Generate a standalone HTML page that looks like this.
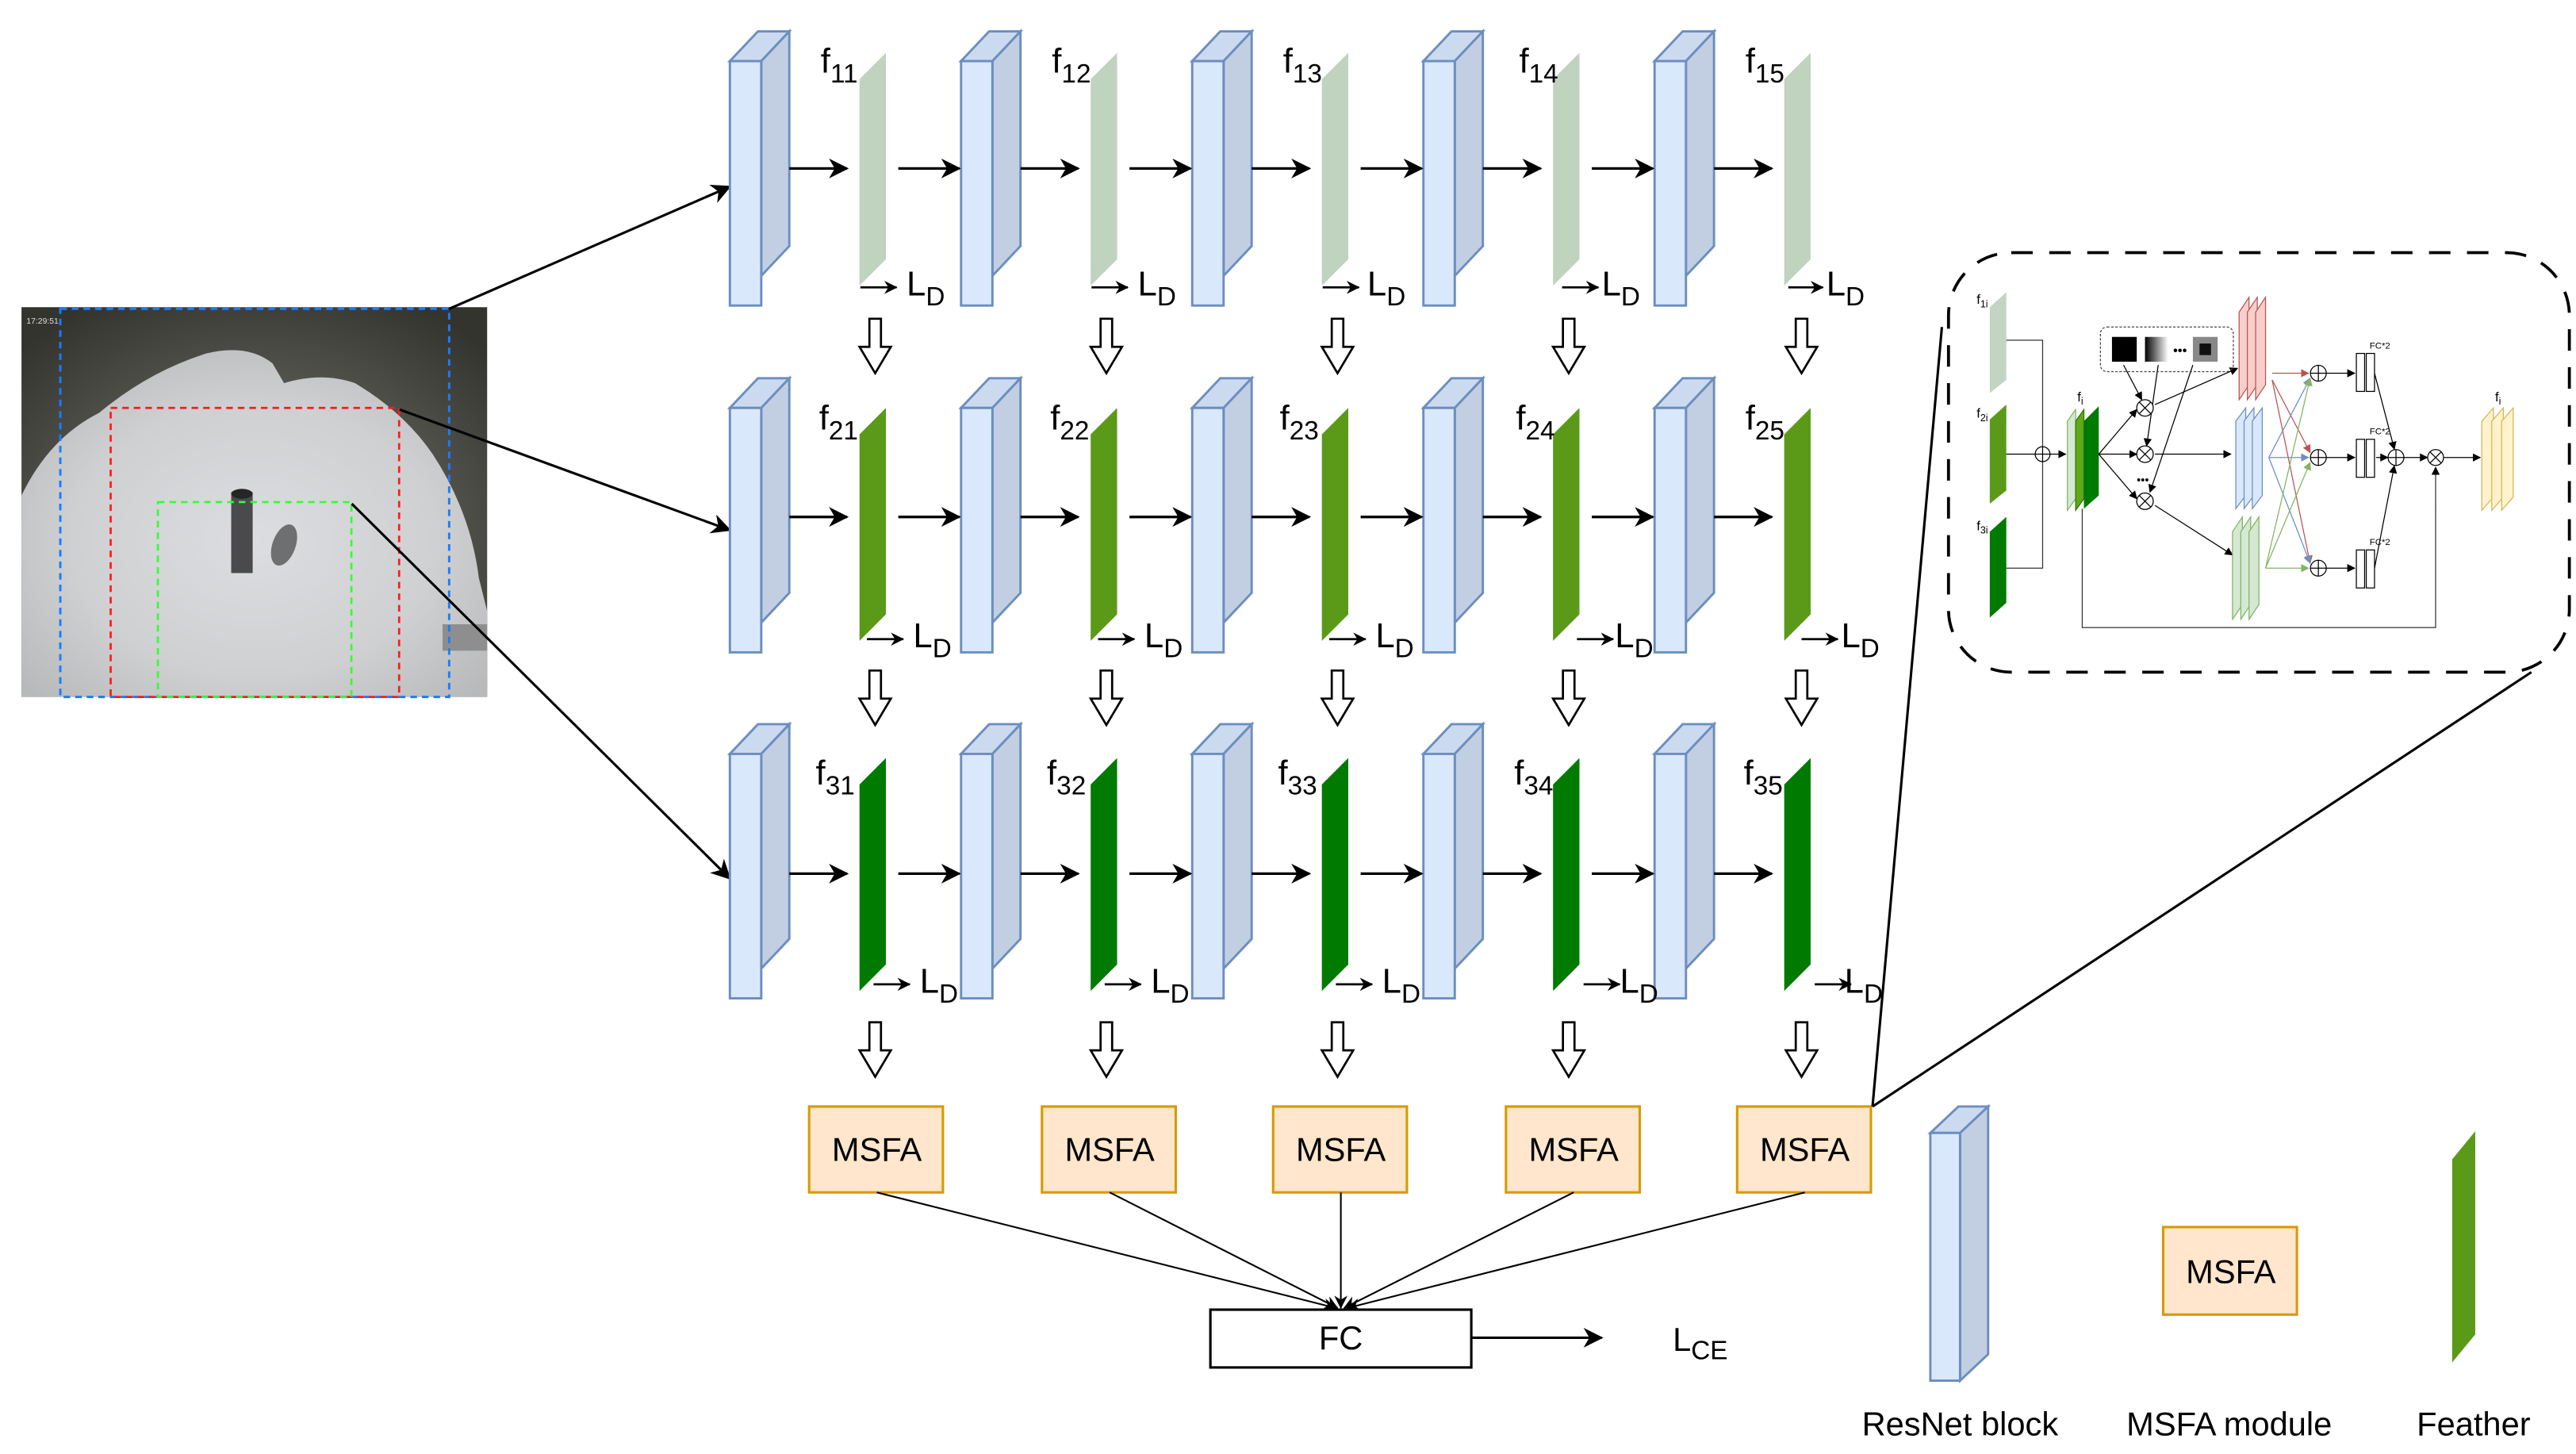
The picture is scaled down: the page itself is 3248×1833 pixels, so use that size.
<!DOCTYPE html>
<html><head><meta charset="utf-8"><style>
html,body{margin:0;padding:0;background:#fff;}
svg{display:block;}
text{font-family:"Liberation Sans",Arial,sans-serif;fill:#000;}
</style></head><body>
<svg width="3248" height="1833" viewBox="0 0 1560 880.4" xmlns="http://www.w3.org/2000/svg">
<defs>
<marker id="ah" markerWidth="12" markerHeight="12" refX="11" refY="6" orient="auto" markerUnits="userSpaceOnUse">
<path d="M0,0 L12,6 L0,12 L3.5,6 Z" fill="#000"/></marker>
<marker id="ahs" markerWidth="8" markerHeight="8" refX="7.5" refY="4" orient="auto" markerUnits="userSpaceOnUse">
<path d="M0,0 L8,4 L0,8 L2.5,4 Z" fill="#000"/></marker>
<marker id="am" markerWidth="5" markerHeight="5" refX="4.5" refY="2.5" orient="auto" markerUnits="userSpaceOnUse">
<path d="M0,0 L5,2.5 L0,5 Z" fill="#000"/></marker>
<marker id="amr" markerWidth="5" markerHeight="5" refX="4.5" refY="2.5" orient="auto" markerUnits="userSpaceOnUse">
<path d="M0,0 L5,2.5 L0,5 Z" fill="#b85450"/></marker>
<marker id="amb" markerWidth="5" markerHeight="5" refX="4.5" refY="2.5" orient="auto" markerUnits="userSpaceOnUse">
<path d="M0,0 L5,2.5 L0,5 Z" fill="#6c8ebf"/></marker>
<marker id="amg" markerWidth="5" markerHeight="5" refX="4.5" refY="2.5" orient="auto" markerUnits="userSpaceOnUse">
<path d="M0,0 L5,2.5 L0,5 Z" fill="#82b366"/></marker>
<g id="blk" stroke="#6c8ebf" stroke-width="1.4" stroke-linejoin="miter">
<polygon points="0,18 17,0 36,0 19,18" fill="#ccdaf0"/>
<polygon points="19,18 36,0 36,130 19,148" fill="#c2cfe2"/>
<rect x="0" y="18" width="19" height="148" fill="#dae8fc"/>
</g>
<polygon id="fm" points="0,16 16,0 16,125 0,141"/>
<polygon id="ha" points="-3.5,0 3.5,0 3.5,17 9.5,17 0,33 -9.5,17 -3.5,17" fill="#fff" stroke="#000" stroke-width="1.3"/>
<radialGradient id="snow" cx="50%" cy="55%" r="65%">
<stop offset="0" stop-color="#dcdde0"/><stop offset="0.6" stop-color="#cfd0d2"/><stop offset="1" stop-color="#b8b9ba"/></radialGradient>
<radialGradient id="rim" cx="50%" cy="60%" r="70%">
<stop offset="0.5" stop-color="#5a5a55"/><stop offset="1" stop-color="#34342f"/></radialGradient>
<linearGradient id="grd" x1="0" x2="1"><stop offset="0" stop-color="#000"/><stop offset="1" stop-color="#fff"/></linearGradient>
</defs>

<!-- photo -->
<rect x="13" y="186" width="282" height="236" fill="url(#rim)"/>
<path d="M13,300 Q30,265 60,250 Q90,225 125,214 Q150,208 165,220 L172,232 Q195,225 215,232 Q245,250 262,275 Q285,310 290,350 L295,370 L295,422 L13,422 Z" fill="url(#snow)"/>
<rect x="268" y="378" width="27" height="16" fill="#8e8e8e"/>
<ellipse cx="172" cy="330" rx="7" ry="13" fill="#6e6f71" transform="rotate(20 172 330)"/>
<rect x="140" y="298" width="13" height="49" fill="#4a4a4c"/>
<ellipse cx="146.5" cy="299" rx="6.5" ry="3" fill="#262626"/>
<text x="16" y="196" font-size="5" style="fill:#ddd">17:29:51</text>
<rect x="36.5" y="187" width="235.5" height="235" fill="none" stroke="#1a7cff" stroke-width="1.4" stroke-dasharray="4,3"/>
<rect x="67" y="247" width="174.7" height="175" fill="none" stroke="#ff1a1a" stroke-width="1.3" stroke-dasharray="4,3"/>
<rect x="95.6" y="304" width="117.2" height="118" fill="none" stroke="#33ff33" stroke-width="1.3" stroke-dasharray="4,3"/>
<g stroke="#000" stroke-width="1.5" fill="none">
<line x1="272" y1="187" x2="442" y2="113" marker-end="url(#ah)"/>
<line x1="242" y1="248" x2="442" y2="321" marker-end="url(#ah)"/>
<line x1="213" y1="305" x2="442" y2="532" marker-end="url(#ah)"/>
</g>

<!-- blocks -->
<g>
<use href="#blk" x="442" y="19"/><use href="#blk" x="582" y="19"/><use href="#blk" x="722" y="19"/><use href="#blk" x="862" y="19"/><use href="#blk" x="1002" y="19"/>
<use href="#blk" x="442" y="229"/><use href="#blk" x="582" y="229"/><use href="#blk" x="722" y="229"/><use href="#blk" x="862" y="229"/><use href="#blk" x="1002" y="229"/>
<use href="#blk" x="442" y="438.5"/><use href="#blk" x="582" y="438.5"/><use href="#blk" x="722" y="438.5"/><use href="#blk" x="862" y="438.5"/><use href="#blk" x="1002" y="438.5"/>
</g>
<!-- feature maps -->
<g fill="#bfd3bf">
<use href="#fm" x="520.5" y="32"/><use href="#fm" x="660.5" y="32"/><use href="#fm" x="800.5" y="32"/><use href="#fm" x="940.5" y="32"/><use href="#fm" x="1080.5" y="32"/>
</g>
<g fill="#5a9a18">
<use href="#fm" x="520.5" y="247"/><use href="#fm" x="660.5" y="247"/><use href="#fm" x="800.5" y="247"/><use href="#fm" x="940.5" y="247"/><use href="#fm" x="1080.5" y="247"/>
</g>
<g fill="#007a00">
<use href="#fm" x="520.5" y="459"/><use href="#fm" x="660.5" y="459"/><use href="#fm" x="800.5" y="459"/><use href="#fm" x="940.5" y="459"/><use href="#fm" x="1080.5" y="459"/>
</g>

<!-- horizontal arrows -->
<g stroke="#000" stroke-width="1.6" marker-end="url(#ah)">
<line x1="478" y1="102" x2="513" y2="102"/><line x1="544" y1="102" x2="581" y2="102"/>
<line x1="618" y1="102" x2="653" y2="102"/><line x1="684" y1="102" x2="721" y2="102"/>
<line x1="758" y1="102" x2="793" y2="102"/><line x1="824" y1="102" x2="861" y2="102"/>
<line x1="898" y1="102" x2="933" y2="102"/><line x1="964" y1="102" x2="1001" y2="102"/>
<line x1="1038" y1="102" x2="1073" y2="102"/>
<line x1="478" y1="313" x2="513" y2="313"/><line x1="544" y1="313" x2="581" y2="313"/>
<line x1="618" y1="313" x2="653" y2="313"/><line x1="684" y1="313" x2="721" y2="313"/>
<line x1="758" y1="313" x2="793" y2="313"/><line x1="824" y1="313" x2="861" y2="313"/>
<line x1="898" y1="313" x2="933" y2="313"/><line x1="964" y1="313" x2="1001" y2="313"/>
<line x1="1038" y1="313" x2="1073" y2="313"/>
<line x1="478" y1="529" x2="513" y2="529"/><line x1="544" y1="529" x2="581" y2="529"/>
<line x1="618" y1="529" x2="653" y2="529"/><line x1="684" y1="529" x2="721" y2="529"/>
<line x1="758" y1="529" x2="793" y2="529"/><line x1="824" y1="529" x2="861" y2="529"/>
<line x1="898" y1="529" x2="933" y2="529"/><line x1="964" y1="529" x2="1001" y2="529"/>
<line x1="1038" y1="529" x2="1073" y2="529"/>
</g>
<!-- L_D small arrows -->
<g stroke="#000" stroke-width="1.3" marker-end="url(#ahs)">
<line x1="521" y1="174" x2="543" y2="174"/><line x1="661" y1="174" x2="683" y2="174"/><line x1="801" y1="174" x2="823" y2="174"/><line x1="946" y1="174" x2="968" y2="174"/><line x1="1083" y1="174" x2="1104" y2="174"/>
<line x1="525" y1="387" x2="547" y2="387"/><line x1="665" y1="387" x2="687" y2="387"/><line x1="805" y1="387" x2="827" y2="387"/><line x1="955" y1="387" x2="977" y2="387"/><line x1="1091" y1="387" x2="1113" y2="387"/>
<line x1="529" y1="596" x2="551" y2="596"/><line x1="669" y1="596" x2="691" y2="596"/><line x1="809" y1="596" x2="831" y2="596"/><line x1="959" y1="596" x2="981" y2="596"/><line x1="1099" y1="596" x2="1121" y2="596"/>
</g>
<g font-size="21">
<text x="549" y="179">L<tspan font-size="16" dy="6">D</tspan></text>
<text x="689" y="179">L<tspan font-size="16" dy="6">D</tspan></text>
<text x="828" y="179">L<tspan font-size="16" dy="6">D</tspan></text>
<text x="970" y="179">L<tspan font-size="16" dy="6">D</tspan></text>
<text x="1106" y="179">L<tspan font-size="16" dy="6">D</tspan></text>
<text x="553" y="392">L<tspan font-size="16" dy="6">D</tspan></text>
<text x="693" y="392">L<tspan font-size="16" dy="6">D</tspan></text>
<text x="833" y="392">L<tspan font-size="16" dy="6">D</tspan></text>
<text x="978" y="392">L<tspan font-size="16" dy="6">D</tspan></text>
<text x="1115" y="392">L<tspan font-size="16" dy="6">D</tspan></text>
<text x="557" y="601">L<tspan font-size="16" dy="6">D</tspan></text>
<text x="697" y="601">L<tspan font-size="16" dy="6">D</tspan></text>
<text x="837" y="601">L<tspan font-size="16" dy="6">D</tspan></text>
<text x="981" y="601">L<tspan font-size="16" dy="6">D</tspan></text>
<text x="1117" y="601">L<tspan font-size="16" dy="6">D</tspan></text>
</g>
<!-- f labels -->
<g font-size="21">
<text x="497" y="44">f<tspan font-size="16" dy="6">11</tspan></text>
<text x="637" y="44">f<tspan font-size="16" dy="6">12</tspan></text>
<text x="777" y="44">f<tspan font-size="16" dy="6">13</tspan></text>
<text x="920" y="44">f<tspan font-size="16" dy="6">14</tspan></text>
<text x="1057" y="44">f<tspan font-size="16" dy="6">15</tspan></text>
<text x="496" y="260">f<tspan font-size="16" dy="6">21</tspan></text>
<text x="636" y="260">f<tspan font-size="16" dy="6">22</tspan></text>
<text x="775" y="260">f<tspan font-size="16" dy="6">23</tspan></text>
<text x="918" y="260">f<tspan font-size="16" dy="6">24</tspan></text>
<text x="1057" y="260">f<tspan font-size="16" dy="6">25</tspan></text>
<text x="494" y="475">f<tspan font-size="16" dy="6">31</tspan></text>
<text x="634" y="475">f<tspan font-size="16" dy="6">32</tspan></text>
<text x="774" y="475">f<tspan font-size="16" dy="6">33</tspan></text>
<text x="917" y="475">f<tspan font-size="16" dy="6">34</tspan></text>
<text x="1056" y="475">f<tspan font-size="16" dy="6">35</tspan></text>
</g>
<!-- hollow arrows -->
<g>
<use href="#ha" x="530" y="193"/><use href="#ha" x="670" y="193"/><use href="#ha" x="810" y="193"/><use href="#ha" x="950" y="193"/><use href="#ha" x="1091" y="193"/>
<use href="#ha" x="530" y="406"/><use href="#ha" x="670" y="406"/><use href="#ha" x="810" y="406"/><use href="#ha" x="950" y="406"/><use href="#ha" x="1091" y="406"/>
<use href="#ha" x="530" y="619"/><use href="#ha" x="670" y="619"/><use href="#ha" x="810" y="619"/><use href="#ha" x="950" y="619"/><use href="#ha" x="1091" y="619"/>
</g>
<!-- MSFA -->
<g fill="#ffe6cc" stroke="#d79b00" stroke-width="1.5">
<rect x="490" y="670" width="81" height="52"/><rect x="631" y="670" width="81" height="52"/><rect x="771" y="670" width="81" height="52"/><rect x="912" y="670" width="81" height="52"/><rect x="1052" y="670" width="81" height="52"/>
<rect x="1310" y="743" width="81" height="53"/>
</g>
<g font-size="20" text-anchor="middle">
<text x="531" y="703">MSFA</text><text x="672" y="703">MSFA</text><text x="812" y="703">MSFA</text><text x="953" y="703">MSFA</text><text x="1093" y="703">MSFA</text>
<text x="1351" y="777">MSFA</text>
</g>
<g stroke="#000" stroke-width="1" marker-end="url(#ahs)">
<line x1="531" y1="722" x2="809" y2="792"/>
<line x1="672" y1="722" x2="810" y2="792"/>
<line x1="812" y1="722" x2="812" y2="792"/>
<line x1="953" y1="722" x2="814" y2="792"/>
<line x1="1093" y1="722" x2="816" y2="792"/>
</g>
<rect x="733" y="793" width="158" height="35" fill="#fff" stroke="#000" stroke-width="1.5"/>
<text x="812" y="817" font-size="20" text-anchor="middle">FC</text>
<line x1="891" y1="810" x2="970" y2="810" stroke="#000" stroke-width="1.5" marker-end="url(#ah)"/>
<text x="1013" y="818" font-size="20">L<tspan font-size="16" dy="5">CE</tspan></text>

<!-- legend -->
<g stroke="#6c8ebf" stroke-width="1.4">
<polygon points="1169,686 1186,670 1204,670 1187,686" fill="#ccdaf0"/>
<polygon points="1187,686 1204,670 1204,820 1187,836" fill="#c2cfe2"/>
<rect x="1169" y="686" width="18" height="150" fill="#dae8fc"/>
</g>
<polygon points="1485,702 1499,685 1499,808 1485,825" fill="#5a9a18"/>
<g font-size="20" text-anchor="middle">
<text x="1187" y="869">ResNet block</text>
<text x="1350" y="869">MSFA module</text>
<text x="1498" y="869">Feather</text>
</g>

<!-- zoom lines -->
<g stroke="#000" stroke-width="1.5">
<line x1="1134" y1="670" x2="1176" y2="198"/>
<line x1="1134" y1="670" x2="1533" y2="407"/>
</g>
<rect x="1180" y="153" width="376" height="254" rx="38" ry="38" fill="none" stroke="#000" stroke-width="1.8" stroke-dasharray="13,10"/>

<!-- detail diagram -->
<g stroke-width="0.6">
<polygon points="1205,186 1215,177 1215,230 1205,238" fill="#c2d4c2"/>
<polygon points="1205,254 1215,245 1215,297 1205,305" fill="#5a9a18"/>
<polygon points="1205,322 1215,313 1215,365 1205,374" fill="#007a00"/>
<g font-size="8"><text x="1197" y="184">f<tspan font-size="6" dy="2">1i</tspan></text>
<text x="1197" y="253">f<tspan font-size="6" dy="2">2i</tspan></text>
<text x="1197" y="321">f<tspan font-size="6" dy="2">3i</tspan></text>
<text x="1258" y="243">f<tspan font-size="6" dy="2">i</tspan></text>
<text x="1511" y="243">f<tspan font-size="6" dy="2">i</tspan></text></g>
<polyline points="1215,206 1237,206 1237,344 1215,344" fill="none" stroke="#333"/>
<line x1="1215" y1="275" x2="1251" y2="275" stroke="#000" marker-end="url(#am)"/>
<circle cx="1237" cy="275" r="4.5" fill="#fff" stroke="#000"/>
<line x1="1232.5" y1="275" x2="1241.5" y2="275" stroke="#000"/><line x1="1237" y1="270.5" x2="1237" y2="279.5" stroke="#000"/>
<polygon points="1252,255 1257,248 1257,302 1252,309" fill="#d5e8d4" stroke="#82b366"/>
<polygon points="1257,255 1262,248 1262,302 1257,309" fill="#60a917" stroke="#2d7600"/>
<polygon points="1262,255 1271,246 1271,300 1262,308" fill="#007a00"/>
<g stroke="#000" fill="none" marker-end="url(#am)">
<line x1="1271" y1="275" x2="1294" y2="248"/><line x1="1271" y1="275" x2="1294" y2="275"/><line x1="1271" y1="275" x2="1294" y2="302"/>
<line x1="1305" y1="245" x2="1355" y2="223"/><line x1="1305" y1="275" x2="1351" y2="275"/><line x1="1305" y1="306" x2="1352" y2="336"/>
<line x1="1286" y1="221" x2="1297" y2="242"/><line x1="1307" y1="221" x2="1300" y2="270"/><line x1="1328" y1="221" x2="1302" y2="298"/>
</g>
<rect x="1272" y="198" width="80.5" height="27" rx="4" fill="none" stroke="#444" stroke-dasharray="1.5,1"/>
<rect x="1279" y="204" width="15" height="15" fill="#000"/>
<rect x="1299" y="204" width="14" height="15" fill="url(#grd)"/>
<text x="1316" y="215" font-size="8">•••</text>
<rect x="1328" y="204" width="15" height="15" fill="#888"/>
<rect x="1332" y="208" width="7" height="7" fill="#111"/>
<text x="1294" y="293" font-size="7">•••</text>
<g fill="#fff" stroke="#000">
<circle cx="1299" cy="247" r="5"/><circle cx="1299" cy="275" r="5"/><circle cx="1299" cy="303.5" r="5"/>
</g>
<g stroke="#000"><path d="M1295.5,243.5 l7,7 M1302.5,243.5 l-7,7 M1295.5,271.5 l7,7 M1302.5,271.5 l-7,7 M1295.5,300 l7,7 M1302.5,300 l-7,7"/></g>
<g fill="#f8cecc" stroke="#b85450">
<polygon points="1356,189 1362,180 1362,233 1356,242"/><polygon points="1361,189 1367,180 1367,233 1361,242"/><polygon points="1366,189 1372,180 1372,233 1366,242"/></g>
<g fill="#dae8fc" stroke="#6c8ebf">
<polygon points="1354,255 1360,247 1360,300 1354,308"/><polygon points="1359,255 1365,247 1365,300 1359,308"/><polygon points="1364,255 1370,247 1370,300 1364,308"/></g>
<g fill="#d5e8d4" stroke="#82b366">
<polygon points="1352,322 1358,313 1358,366 1352,375"/><polygon points="1357,322 1363,313 1363,366 1357,375"/><polygon points="1362,322 1368,313 1368,366 1362,375"/></g>
<g fill="none">
<line x1="1376" y1="226" x2="1398" y2="226" stroke="#b85450" marker-end="url(#amr)"/>
<line x1="1376" y1="230" x2="1399" y2="274" stroke="#b85450" marker-end="url(#amr)"/>
<line x1="1376" y1="230" x2="1399" y2="341" stroke="#b85450" marker-end="url(#amr)"/>
<line x1="1374" y1="277" x2="1398" y2="277" stroke="#6c8ebf" marker-end="url(#amb)"/>
<line x1="1374" y1="277" x2="1399" y2="229" stroke="#6c8ebf" marker-end="url(#amb)"/>
<line x1="1374" y1="277" x2="1399" y2="341" stroke="#6c8ebf" marker-end="url(#amb)"/>
<line x1="1372" y1="344" x2="1398" y2="344" stroke="#82b366" marker-end="url(#amg)"/>
<line x1="1372" y1="344" x2="1399" y2="229" stroke="#82b366" marker-end="url(#amg)"/>
<line x1="1372" y1="344" x2="1399" y2="280" stroke="#82b366" marker-end="url(#amg)"/>
</g>
<g fill="#fff" stroke="#000">
<circle cx="1404" cy="226" r="4.8"/><circle cx="1404" cy="277" r="4.8"/><circle cx="1404" cy="344" r="4.8"/>
<circle cx="1451" cy="277" r="4.8"/><circle cx="1475" cy="277" r="4.8"/></g>
<g stroke="#000"><path d="M1399.2,226 h9.6 M1404,221.2 v9.6 M1399.2,277 h9.6 M1404,272.2 v9.6 M1399.2,344 h9.6 M1404,339.2 v9.6 M1446.2,277 h9.6 M1451,272.2 v9.6 M1471.6,273.6 l6.8,6.8 M1478.4,273.6 l-6.8,6.8"/></g>
<g stroke="#000" marker-end="url(#am)">
<line x1="1409" y1="226" x2="1426" y2="226"/><line x1="1409" y1="277" x2="1426" y2="277"/><line x1="1409" y1="344" x2="1426" y2="344"/>
<line x1="1439" y1="277" x2="1446" y2="277"/><line x1="1456" y1="277" x2="1470" y2="277"/><line x1="1480" y1="277" x2="1502" y2="277"/>
<line x1="1438" y1="226" x2="1450" y2="272"/><line x1="1438" y1="344" x2="1450" y2="282"/>
</g>
<g fill="#fff" stroke="#000">
<rect x="1427" y="214" width="5" height="23"/><rect x="1433" y="214" width="5" height="23"/>
<rect x="1427" y="266" width="5" height="23"/><rect x="1433" y="266" width="5" height="23"/>
<rect x="1427" y="333" width="5" height="23"/><rect x="1433" y="333" width="5" height="23"/></g>
<g font-size="5.5"><text x="1435" y="211">FC*2</text><text x="1435" y="263">FC*2</text><text x="1435" y="330">FC*2</text></g>
<polyline points="1261,308 1261,380 1475,380 1475,283" fill="none" stroke="#333" marker-end="url(#am)"/>
<g fill="#fff2cc" stroke="#d6b656">
<polygon points="1503,255 1510,247 1510,301 1503,309"/><polygon points="1509,255 1516,247 1516,301 1509,309"/><polygon points="1515,255 1522,247 1522,301 1515,309"/></g>
</g>
</svg>
</body></html>
